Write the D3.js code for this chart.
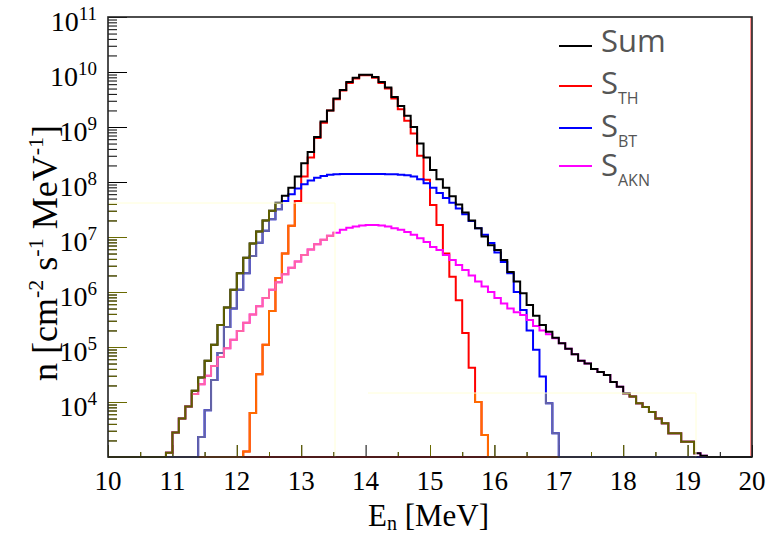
<!DOCTYPE html>
<html>
<head>
<meta charset="utf-8">
<script src="https://cdn.jsdelivr.net/npm/d3@7"></script>
<style>
html, body { margin: 0; padding: 0; background: #fff; }
svg { display: block; }
</style>
</head>
<body>
<script>
// Histogram binning: 100 bins of 0.1 MeV from 10 to 20 MeV
const binLow = 10, binWidth = 0.1, nBins = 100;

// Neutron flux per bin [cm^-2 s^-1 MeV^-1]; each series starts at its first non-empty bin
const sumStart = 10.9;
const sumValues = [
  1.2e3, 2.8e3, 5.0e3, 8.3e3, 1.6e4, 2.8e4, 5.6e4, 1.1e5, 2.5e5, 5.2e5,
  1.1e6, 2.2e6, 4.2e6, 7.6e6, 1.26e7, 2.0e7, 3.0e7, 4.2e7, 5.6e7, 7.9e7,
  1.26e8, 2.2e8, 3.5e8, 6.6e8, 1.26e9, 2.0e9, 3.3e9, 4.7e9, 6.6e9, 7.9e9,
  8.9e9, 8.9e9, 8.1e9, 6.6e9, 5.2e9, 3.5e9, 2.4e9, 1.6e9,
  1.0e9, 5.0e8, 2.8e8, 1.66e8, 1.12e8, 7.9e7, 5.5e7, 3.9e7, 2.8e7, 2.0e7,
  1.45e7, 1.02e7, 7.1e6, 5.8e6, 3.8e6, 2.3e6, 1.55e6, 9.5e5, 5.8e5, 3.7e5,
  2.5e5, 1.9e5, 1.48e5,
  1.17e5, 9.3e4, 7.4e4, 5.6e4, 5.0e4, 4.0e4, 3.5e4, 3.1e4, 2.3e4, 1.9e4,
  1.45e4, 1.26e4, 9.5e3, 8.1e3, 6.6e3, 5.0e3, 4.1e3, 2.7e3, 2.7e3, 1.9e3,
  1.9e3, 1.17e3, 1.05e3
];

const thStart = 12.1;
const thValues = [
  1.26e3, 6.3e3, 3.2e4, 1.1e5, 4.5e5, 1.8e6, 5.0e6, 1.6e7, 4.5e7, 1.26e8,
  2.8e8, 6.3e8, 1.2e9, 2.0e9, 3.2e9, 4.6e9, 6.3e9, 7.6e9, 8.7e9, 8.7e9,
  7.9e9, 6.3e9, 5.0e9, 3.3e9, 2.1e9, 1.3e9, 7.6e8, 3.0e8, 1.1e8, 3.8e7,
  1.66e7, 5.0e6, 1.9e6, 7.1e5, 1.8e5, 4.2e4, 1.0e4, 2.5e3
];

const btStart = 11.4;
const btValues = [
  2.3e3, 7.1e3, 2.5e4, 7.8e4, 2.3e5, 5.0e5, 1.1e6, 2.2e6, 4.5e6, 7.9e6,
  1.3e7, 2.1e7, 3.2e7, 4.5e7, 6.0e7, 7.6e7, 9.1e7, 1.07e8, 1.2e8, 1.29e8,
  1.35e8, 1.38e8, 1.4e8, 1.4e8, 1.4e8, 1.4e8, 1.4e8, 1.4e8, 1.4e8, 1.39e8,
  1.38e8, 1.35e8, 1.32e8, 1.26e8, 1.12e8, 9.5e7, 7.9e7, 6.3e7, 5.1e7, 4.2e7,
  3.3e7, 2.6e7, 1.95e7, 1.45e7, 1.1e7, 7.8e6, 5.2e6, 3.5e6, 2.2e6, 1.0e6,
  4.7e5, 2.0e5, 8.9e4, 2.9e4, 9.5e3, 2.7e3
];

const aknStart = 10.9;
const aknValues = [
  1.2e3, 2.8e3, 5.0e3, 8.3e3, 1.4e4, 2.1e4, 3.0e4, 4.5e4, 6.6e4, 9.5e4,
  1.35e5, 1.95e5, 2.75e5, 3.9e5, 5.5e5, 7.8e5, 1.1e6, 1.5e6, 2.1e6, 2.75e6,
  3.6e6, 4.7e6, 5.9e6, 7.4e6, 8.9e6, 1.05e7, 1.2e7, 1.35e7, 1.48e7, 1.55e7,
  1.62e7, 1.66e7, 1.66e7, 1.62e7, 1.55e7, 1.45e7, 1.35e7, 1.23e7, 1.1e7, 9.5e6,
  8.1e6, 6.6e6, 5.8e6, 4.7e6, 3.8e6, 3.1e6, 2.5e6, 2.0e6, 1.55e6, 1.26e6,
  1.0e6,
  7.8e5, 6.2e5, 5.0e5, 4.3e5, 3.8e5, 3.1e5, 2.4e5, 2.0e5, 1.7e5, 1.45e5,
  1.17e5, 9.3e4, 7.4e4, 5.6e4, 5.0e4, 4.0e4, 3.5e4, 3.1e4, 2.3e4, 1.9e4,
  1.45e4, 1.26e4, 9.5e3, 8.1e3, 6.6e3, 5.0e3, 4.1e3, 2.7e3, 2.7e3, 1.9e3,
  1.9e3, 1.17e3, 1.05e3
];

const xTickValues = [10, 11, 12, 13, 14, 15, 16, 17, 18, 19, 20];
const yTickExponents = [4, 5, 6, 7, 8, 9, 10, 11];
const legendMain = ["Sum", "S", "S", "S"];
const legendSub = ["", "TH", "BT", "AKN"];

// ---------------------------------------------------------------------------
const W = 767, H = 533;
const frame = { left: 108, right: 752, top: 17, bottom: 457 };

const x = d3.scaleLinear().domain([10, 20]).range([frame.left, frame.right]);
const y = d3.scaleLog().domain([1e3, 1e11]).range([frame.bottom, frame.top]).clamp(true);

const svg = d3.select("body").append("svg")
  .attr("width", W).attr("height", H)
  .style("background", "#fff");

const serif = "'Liberation Serif', 'Times New Roman', serif";
const sans = "'Open Sans', 'Noto Sans', sans-serif";

// Regions of the pad where the strokes carry a yellowish cast
const tintRects = [
  { x0: frame.left, x1: 335, y0: 203, y1: frame.bottom + 2 },
  { x0: 368, x1: 696, y0: 393, y1: frame.bottom + 2 }
];
const defs = svg.append("defs");
defs.append("clipPath").attr("id", "plot-clip")
  .append("rect")
  .attr("x", frame.left).attr("y", frame.top - 2)
  .attr("width", frame.right - frame.left).attr("height", frame.bottom - frame.top + 4);
const tintClip = defs.append("clipPath").attr("id", "tint-clip");
tintRects.forEach(r => tintClip.append("rect")
  .attr("x", r.x0).attr("y", r.y0).attr("width", r.x1 - r.x0).attr("height", r.y1 - r.y0));

function fillBins(start, values) {
  const arr = new Array(nBins).fill(0);
  const i0 = Math.round((start - binLow) / binWidth);
  values.forEach((v, k) => { arr[i0 + k] = v; });
  return arr;
}

const series = [
  { key: "th",  bins: fillBins(thStart, thValues),   color: "#ff0000", tint: "#ff6a00" },
  { key: "bt",  bins: fillBins(btStart, btValues),   color: "#0000ff", tint: "#6464a6" },
  { key: "akn", bins: fillBins(aknStart, aknValues), color: "#ff00ff", tint: "#ff64a6" },
  { key: "sum", bins: fillBins(sumStart, sumValues), color: "#000000", tint: "#5e5e00" }
];

const step = d3.line()
  .x(d => x(d[0]))
  .y(d => d[1] > 0 ? y(d[1]) : frame.bottom)
  .curve(d3.curveStepAfter);

function points(bins) {
  const pts = bins.map((v, i) => [binLow + i * binWidth, v]);
  pts.push([binLow + nBins * binWidth, bins[nBins - 1]]);
  return pts;
}

// ---- axes ticks -----------------------------------------------------------
const ticksG = svg.append("g");

function drawTicks(g) {
  // x major / minor ticks (pointing into the pad)
  g.append("g").attr("transform", `translate(0,${frame.bottom})`)
    .call(d3.axisBottom(x).tickValues(xTickValues).tickSize(-12).tickFormat(""))
    .call(a => a.select(".domain").remove());
  g.append("g").attr("transform", `translate(0,${frame.bottom})`)
    .call(d3.axisBottom(x).tickValues(d3.range(10.5, 20, 1)).tickSize(-5).tickFormat(""))
    .call(a => a.select(".domain").remove());
  // y decade / sub-decade ticks
  const decades = d3.range(3, 12).map(e => Math.pow(10, e));
  const minors = [];
  for (let e = 3; e < 11; e++) for (let k = 2; k <= 9; k++) minors.push(k * Math.pow(10, e));
  g.append("g").attr("transform", `translate(${frame.left},0)`)
    .call(d3.axisLeft(y).tickValues(decades).tickSize(-19).tickFormat(""))
    .call(a => a.select(".domain").remove());
  g.append("g").attr("transform", `translate(${frame.left},0)`)
    .call(d3.axisLeft(y).tickValues(minors).tickSize(-9).tickFormat(""))
    .call(a => a.select(".domain").remove());
  g.selectAll(".tick line").attr("stroke-width", 1);
}
drawTicks(ticksG.append("g").attr("class", "ticks-plain"));
// tinted copy of the ticks inside the cast regions
const tintedTicks = ticksG.append("g").attr("clip-path", "url(#tint-clip)");
drawTicks(tintedTicks);
tintedTicks.selectAll(".tick line").attr("stroke", "#6a6a00");

// ---- histograms -------------------------------------------------------------
const plot = svg.append("g").attr("clip-path", "url(#plot-clip)");

// red edge of the S_TH outline along the right border and baseline
plot.append("line")
  .attr("x1", x(20) - 1).attr("x2", x(20) - 1)
  .attr("y1", frame.top).attr("y2", frame.bottom)
  .attr("stroke", "#ff2020").attr("stroke-width", 1);
plot.append("line")
  .attr("x1", x(12.1)).attr("x2", x(15.9))
  .attr("y1", frame.bottom).attr("y2", frame.bottom)
  .attr("stroke", "#ff0000").attr("stroke-width", 2);

const histG = plot.append("g");
series.forEach(s => {
  histG.append("path")
    .attr("d", step(points(s.bins)))
    .attr("fill", "none")
    .attr("stroke", s.color)
    .attr("stroke-width", 2);
});
const tintG = plot.append("g").attr("clip-path", "url(#tint-clip)");
series.forEach(s => {
  tintG.append("path")
    .attr("d", step(points(s.bins)))
    .attr("fill", "none")
    .attr("stroke", s.tint)
    .attr("stroke-width", 2);
});
// faint outline of the tinted regions
tintRects.forEach(r => {
  svg.append("path")
    .attr("d", `M${r.x0},${r.y0}H${r.x1}V${frame.bottom}`)
    .attr("fill", "none").attr("stroke", "#ffffd8").attr("stroke-width", 1);
});

// ---- frame ------------------------------------------------------------------
svg.append("rect")
  .attr("x", frame.left).attr("y", frame.top)
  .attr("width", frame.right - frame.left).attr("height", frame.bottom - frame.top)
  .attr("fill", "none").attr("stroke", "#222").attr("stroke-width", 1.6);

// ---- tick labels ------------------------------------------------------------
svg.append("g").selectAll("text").data(xTickValues).join("text")
  .attr("x", d => x(d)).attr("y", 490)
  .attr("text-anchor", "middle")
  .attr("font-family", serif).attr("font-size", 27).attr("fill", "#000")
  .text(d => d);

const yl = svg.append("g").selectAll("text").data(yTickExponents).join("text")
  .attr("x", 97).attr("y", d => y(Math.pow(10, d)) + 14)
  .attr("text-anchor", "end")
  .attr("font-family", serif).attr("fill", "#000");
yl.append("tspan").attr("font-size", 28).text("10");
yl.append("tspan").attr("font-size", 19).attr("dy", -11).text(d => d);

// ---- axis titles --------------------------------------------------------------
const xt = svg.append("text")
  .attr("x", 368).attr("y", 526)
  .attr("font-family", serif).attr("font-size", 31).attr("fill", "#000");
xt.append("tspan").text("E");
xt.append("tspan").attr("font-size", 20).attr("dy", 4).text("n");
xt.append("tspan").attr("dy", -4).text(" [MeV]");

const yt = svg.append("text")
  .attr("transform", "translate(57,253) rotate(-90)")
  .attr("text-anchor", "middle")
  .attr("font-family", serif).attr("font-size", 36).attr("fill", "#000");
yt.append("tspan").text("n [cm");
yt.append("tspan").attr("font-size", 22).attr("dy", -14).text("-2");
yt.append("tspan").attr("dy", 14).text(" s");
yt.append("tspan").attr("font-size", 22).attr("dy", -14).text("-1");
yt.append("tspan").attr("dy", 14).text(" MeV");
yt.append("tspan").attr("font-size", 22).attr("dy", -14).text("-1");
yt.append("tspan").attr("dy", 14).text("]");

// ---- legend -------------------------------------------------------------------
const legendColors = series.map(s => s.color);
const legendOrder = [3, 0, 1, 2];
const lineY = [46, 86, 128, 166];
const textY = [52, 94, 137, 176];
const lg = svg.append("g");
legendOrder.forEach((si, i) => {
  lg.append("line")
    .attr("x1", 559).attr("x2", 592).attr("y1", lineY[i]).attr("y2", lineY[i])
    .attr("stroke", legendColors[si]).attr("stroke-width", 2);
  const t = lg.append("text")
    .attr("x", 601).attr("y", textY[i])
    .attr("font-family", sans).attr("font-size", 31).attr("fill", "#555");
  t.append("tspan").text(legendMain[i]);
  if (legendSub[i]) t.append("tspan").attr("font-size", 16).attr("dy", 10).text(legendSub[i]);
});
</script>
</body>
</html>
